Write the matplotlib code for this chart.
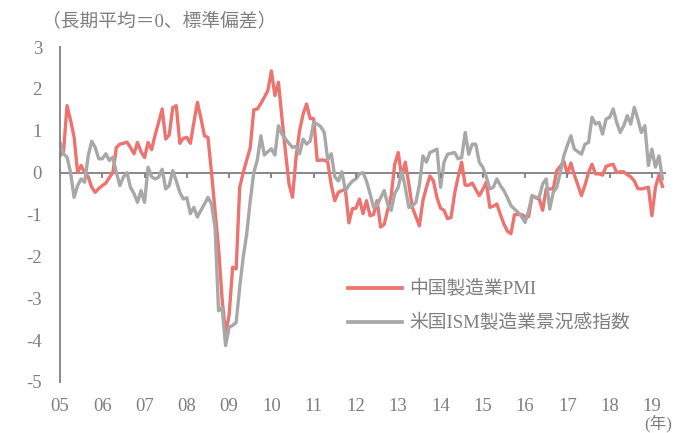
import matplotlib
matplotlib.use('Agg')
import matplotlib.pyplot as plt
from matplotlib.lines import Line2D
from matplotlib.transforms import blended_transform_factory
import numpy as np

# Monthly, Jan 2005 - Apr 2019 (standardised)
china_pmi = [
    0.4, 0.5, 1.6, 1.25, 0.85, 0.0, 0.17, 0.0, -0.1, -0.35, -0.47, -0.38,
    -0.31, -0.25, -0.12, 0.0, 0.6, 0.68, 0.7, 0.73, 0.6, 0.45, 0.72, 0.5,
    0.36, 0.72, 0.55, 0.9, 1.2, 1.52, 0.8, 0.9, 1.55, 1.6, 0.7, 0.82,
    0.84, 0.7, 1.2, 1.68, 1.3, 0.88, 0.84, 0.0, -0.9, -1.8, -3.0, -3.85,
    -3.4, -2.26, -2.3, -0.35, 0.0, 0.3, 0.6, 1.5, 1.52, 1.65, 1.8, 1.96,
    2.43, 1.84, 2.16, 1.3, 0.5, -0.27, -0.59, 0.37, 1.0, 1.4, 1.64, 1.29,
    1.29, 0.29, 0.3, 0.3, 0.25, -0.3, -0.67, -0.47, -0.43, -0.4, -1.2, -0.86,
    -0.85, -0.63, -0.98, -0.67, -1.03, -1.0, -0.67, -1.3, -1.24, -0.9, -0.55, 0.2,
    0.48, -0.11, 0.25, -0.27, -0.83, -1.05, -1.27, -0.67, -0.35, -0.08, -0.2, -0.6,
    -0.85, -0.9, -1.1, -1.07, -0.5, -0.1, 0.25, -0.3, -0.3, -0.25, -0.4, -0.55,
    -0.4, -0.23, -0.83, -0.8, -0.75, -1.0, -1.23, -1.4, -1.46, -1.0, -1.0, -1.0,
    -1.05, -1.05, -0.55, -0.6, -0.63, -0.9, -0.39, -0.39, -0.39, 0.05, 0.15, 0.27,
    -0.03, 0.23, -0.06, -0.3, -0.55, -0.3, 0.0, 0.2, -0.03, -0.03, -0.06, 0.15,
    0.18, 0.2, 0.0, 0.02, 0.02, -0.05, -0.1, -0.2, -0.38, -0.39, -0.37, -0.35,
    -1.03, -0.35, -0.06, -0.33,
]
us_ism = [
    0.72, 0.45, 0.37, 0.0, -0.59, -0.31, -0.15, -0.23, 0.4, 0.75, 0.6, 0.33,
    0.33, 0.45, 0.29, 0.37, 0.0, -0.31, -0.1, 0.0, -0.35, -0.5, -0.71, -0.43,
    -0.71, 0.13, -0.1, -0.15, -0.11, 0.08, -0.39, -0.31, 0.05, -0.2, -0.47, -0.63,
    -0.6, -0.98, -0.83, -1.06, -0.9, -0.75, -0.59, -0.75, -1.3, -3.3, -3.22, -4.13,
    -3.69, -3.65, -3.58, -2.74, -2.02, -1.46, -0.67, 0.0, 0.3, 0.88, 0.42, 0.5,
    0.57, 0.42, 1.12, 0.92, 0.8, 0.7, 0.6, 0.63, 0.45, 0.8, 0.68, 0.75,
    1.2, 1.16, 1.1, 0.96, 0.3, 0.45, -0.1, -0.2, 0.02, -0.43, -0.3, -0.2,
    -0.15, -0.03, 0.0, -0.2, -0.5, -0.83, -0.79, -0.6, -0.43, -0.75, -0.9, -0.5,
    -0.35, 0.03, -0.35, -0.83, -0.8, -0.71, -0.3, 0.4, 0.25, 0.48, 0.52, 0.56,
    -0.35, 0.25, 0.44, 0.46, 0.48, 0.33, 0.36, 0.96, 0.44, 0.68, 0.68, 0.25,
    0.13, -0.1, -0.39, -0.35, -0.15, -0.31, -0.43, -0.6, -0.79, -0.87, -0.95, -1.05,
    -1.19, -0.91, -0.55, -0.59, -0.59, -0.27, -0.15, -0.87, -0.47, -0.35, 0.0, 0.4,
    0.65, 0.88, 0.56, 0.5, 0.44, 0.68, 0.72, 1.32, 1.16, 1.2, 0.92, 1.28,
    1.32, 1.52, 1.2, 0.96, 1.12, 1.36, 1.16, 1.56, 1.28, 0.96, 1.12, 0.17,
    0.56, 0.13, 0.4, -0.15,
]
year_labels = ['05', '06', '07', '08', '09', '10', '11', '12', '13', '14',
               '15', '16', '17', '18', '19']
y_ticks = [3, 2, 1, 0, -1, -2, -3, -4, -5]
y_tick_labels = ['3', '2', '1', '0', '-1', '-2', '-3', '-4', '-5']
series_names = ['中国製造業PMI', '米国ISM製造業景況感指数']
title_text = '（長期平均＝0、標準偏差）'
unit_text = '(年)'

RED = '#EC7370'
GRAY = '#A8A8A8'
AXIS = '#7F7F7F'
TXT = '#7F7F7F'

plt.rcParams['font.family'] = ['Liberation Serif', 'Noto Sans CJK JP']

W, H = 694, 433
fig = plt.figure(figsize=(W / 100, H / 100), dpi=100)
ax = fig.add_axes([60 / W, 1 - 382 / H, (666 - 60) / W, (382 - 47) / H])

x = np.arange(len(china_pmi))
ax.plot(x, china_pmi, color=RED, lw=2.4, solid_joinstyle='round')
ax.plot(x, us_ism, color=GRAY, lw=2.4, solid_joinstyle='round')

ax.set_xlim(0, 172)
ax.set_ylim(-5, 3)

ax.axhline(0, color=AXIS, lw=1.3, zorder=1)
tick_pos = np.arange(len(year_labels)) * 12
ax.vlines(tick_pos[1:], -0.12, 0, color=AXIS, lw=1.3)

for s in ['top', 'right', 'bottom']:
    ax.spines[s].set_visible(False)
ax.spines['left'].set_color(AXIS)
ax.spines['left'].set_linewidth(1.3)

ax.set_xticks([])
ax.set_yticks(y_ticks)
ax.set_yticklabels(y_tick_labels)
ax.tick_params(axis='y', length=0, pad=13, labelsize=13.5, labelcolor=TXT)

trans = blended_transform_factory(ax.transData, ax.transAxes)
for p, lab in zip(tick_pos, year_labels):
    ax.text(p, -0.072, lab, transform=trans, ha='center', va='center',
            fontsize=13.5, color=TXT)

fig.text(42 / W, 1 - 22 / H, title_text, ha='left', va='center',
         fontsize=13.5, color=TXT)
fig.text(658 / W, 1 - 424 / H, unit_text, ha='center', va='center',
         fontsize=12, color=TXT)

handles = [Line2D([], [], color=RED, lw=2.7), Line2D([], [], color=GRAY, lw=2.7)]
leg = ax.legend(handles, series_names, loc='upper left',
                bbox_to_anchor=(348 / W, 1 - 280 / H), bbox_transform=fig.transFigure,
                frameon=False, fontsize=13.5, handlelength=2.9, handletextpad=0.35,
                labelspacing=0.85, borderpad=0, borderaxespad=0)
for t in leg.get_texts():
    t.set_color(TXT)

fig.savefig('out.png', dpi=100)
